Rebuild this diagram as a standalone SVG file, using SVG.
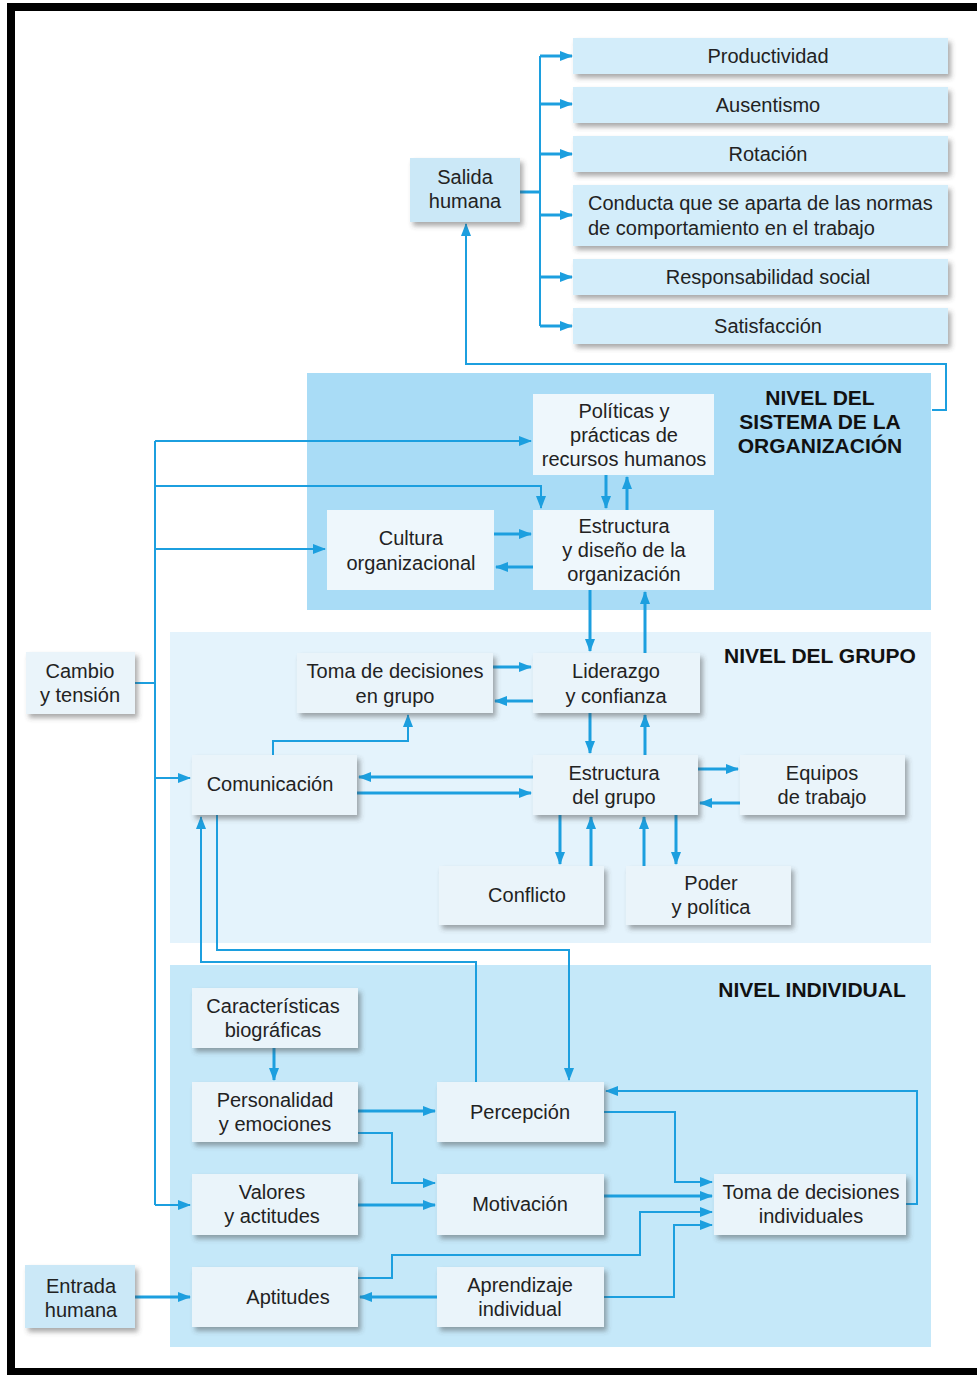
<svg xmlns="http://www.w3.org/2000/svg" width="977" height="1375" viewBox="0 0 977 1375">
<defs>
<style>
text{font-family:"Liberation Sans",Arial,sans-serif;font-size:20px;fill:#222;text-anchor:middle}
.t{font-weight:bold;font-size:21px;fill:#111}
.out{fill:#d3edfa}
.io{fill:#cbe8f7}
.nd{fill:#eef7fc}
.ng{fill:#eaf4fa}
.c{fill:none;stroke:#1c9fdf;stroke-width:3;stroke-linejoin:miter}
.th{stroke-width:2}
</style>
<filter id="sh" x="-10%" y="-10%" width="125%" height="135%">
<feDropShadow dx="3" dy="4" stdDeviation="2.5" flood-color="#444" flood-opacity="0.45"/>
</filter>
<marker id="a" markerWidth="13" markerHeight="10" refX="12" refY="5" orient="auto" markerUnits="userSpaceOnUse">
<path d="M0,0 L13,5 L0,10 z" fill="#1c9fdf"/>
</marker>
</defs>
<rect width="977" height="1375" fill="#fff"/>
<path d="M11,1375 V7 H977 M7,1372 H977" fill="none" stroke="#000" stroke-width="8"/>

<g id="panels">
<rect x="307" y="373" width="624" height="237" fill="#a9dcf6"/>
<rect x="170" y="632" width="761" height="311" fill="#e4f3fc"/>
<rect x="170" y="965" width="761" height="382" fill="#c5e8f9"/>
<text class="t" x="820" y="405">NIVEL DEL</text>
<text class="t" x="820" y="429">SISTEMA DE LA</text>
<text class="t" x="820" y="453">ORGANIZACIÓN</text>
<text class="t" x="820" y="663">NIVEL DEL GRUPO</text>
<text class="t" x="812" y="997">NIVEL INDIVIDUAL</text>
</g>

<g id="connectors">
<path class="c" d="M520,192 H540"/>
<path class="c th" d="M540,56 V326"/>
<path class="c" d="M540,56 H572" marker-end="url(#a)"/>
<path class="c" d="M540,104 H572" marker-end="url(#a)"/>
<path class="c" d="M540,154 H572" marker-end="url(#a)"/>
<path class="c" d="M540,215 H572" marker-end="url(#a)"/>
<path class="c" d="M540,277 H572" marker-end="url(#a)"/>
<path class="c" d="M540,326 H572" marker-end="url(#a)"/>
<path class="c th" d="M932,410 H946 V364 H466 V224" marker-end="url(#a)"/>
<path class="c th" d="M135,683 H155 M155,441 V1205"/>
<path class="c th" d="M155,441 H531" marker-end="url(#a)"/>
<path class="c th" d="M155,486 H541 V508" marker-end="url(#a)"/>
<path class="c th" d="M155,549 H325" marker-end="url(#a)"/>
<path class="c th" d="M155,778 H190" marker-end="url(#a)"/>
<path class="c th" d="M155,1205 H190" marker-end="url(#a)"/>
<path class="c" d="M606,475 V508" marker-end="url(#a)"/>
<path class="c" d="M627,510 V477" marker-end="url(#a)"/>
<path class="c" d="M494,534 H531" marker-end="url(#a)"/>
<path class="c" d="M533,567 H496" marker-end="url(#a)"/>
<path class="c" d="M590,590 V651" marker-end="url(#a)"/>
<path class="c" d="M645,653 V592" marker-end="url(#a)"/>
<path class="c" d="M493,667 H531" marker-end="url(#a)"/>
<path class="c" d="M533,701 H495" marker-end="url(#a)"/>
<path class="c" d="M590,713 V753" marker-end="url(#a)"/>
<path class="c" d="M645,755 V715" marker-end="url(#a)"/>
<path class="c th" d="M273,755 V741 H408 V715" marker-end="url(#a)"/>
<path class="c" d="M533,777 H359" marker-end="url(#a)"/>
<path class="c" d="M357,793 H531" marker-end="url(#a)"/>
<path class="c" d="M698,769 H738" marker-end="url(#a)"/>
<path class="c" d="M740,803 H700" marker-end="url(#a)"/>
<path class="c" d="M560,815 V864" marker-end="url(#a)"/>
<path class="c" d="M591,866 V817" marker-end="url(#a)"/>
<path class="c" d="M644,866 V817" marker-end="url(#a)"/>
<path class="c" d="M676,815 V864" marker-end="url(#a)"/>
<path class="c th" d="M217,815 V950 H569 V1080" marker-end="url(#a)"/>
<path class="c th" d="M476,1082 V962 H201 V817" marker-end="url(#a)"/>
<path class="c" d="M274,1048 V1080" marker-end="url(#a)"/>
<path class="c" d="M358,1111 H435" marker-end="url(#a)"/>
<path class="c th" d="M358,1133 H392 V1183 H435" marker-end="url(#a)"/>
<path class="c" d="M358,1205 H435" marker-end="url(#a)"/>
<path class="c th" d="M604,1112 H675 V1182 H712" marker-end="url(#a)"/>
<path class="c" d="M604,1196 H712" marker-end="url(#a)"/>
<path class="c th" d="M358,1278 H392 V1255 H640 V1212 H712" marker-end="url(#a)"/>
<path class="c th" d="M604,1297 H674 V1225 H712" marker-end="url(#a)"/>
<path class="c" d="M437,1297 H360" marker-end="url(#a)"/>
<path class="c th" d="M906,1204 H917 V1091 H606" marker-end="url(#a)"/>
<path class="c" stroke-width="4" d="M135,1297 H190" marker-end="url(#a)"/>
</g>

<g id="productividad"><rect class="out" filter="url(#sh)" x="573" y="38" width="375" height="36"/><text x="768" y="63">Productividad</text></g>
<g id="ausentismo"><rect class="out" filter="url(#sh)" x="573" y="87" width="375" height="36"/><text x="768" y="112">Ausentismo</text></g>
<g id="rotacion"><rect class="out" filter="url(#sh)" x="573" y="136" width="375" height="36"/><text x="768" y="161">Rotación</text></g>
<g id="conducta"><rect class="out" filter="url(#sh)" x="573" y="185" width="375" height="61"/><text x="588" y="210" style="text-anchor:start">Conducta que se aparta de las normas</text><text x="588" y="235" style="text-anchor:start">de comportamiento en el trabajo</text></g>
<g id="responsabilidad"><rect class="out" filter="url(#sh)" x="573" y="259" width="375" height="36"/><text x="768" y="284">Responsabilidad social</text></g>
<g id="satisfaccion"><rect class="out" filter="url(#sh)" x="573" y="308" width="375" height="36"/><text x="768" y="333">Satisfacción</text></g>
<g id="salida"><rect class="io" filter="url(#sh)" x="410" y="158" width="110" height="64"/><text x="465" y="184">Salida</text><text x="465" y="208">humana</text></g>

<g id="politicas"><rect class="nd" x="533" y="394" width="181" height="81"/><text x="624" y="418">Políticas y</text><text x="624" y="442">prácticas de</text><text x="624" y="466">recursos humanos</text></g>
<g id="cultura"><rect class="nd" x="327" y="510" width="167" height="80"/><text x="411" y="545">Cultura</text><text x="411" y="570">organizacional</text></g>
<g id="estructura-org"><rect class="nd" x="533" y="510" width="181" height="80"/><text x="624" y="533">Estructura</text><text x="624" y="557">y diseño de la</text><text x="624" y="581">organización</text></g>

<g id="cambio"><rect class="ng" filter="url(#sh)" x="26" y="652" width="109" height="62"/><text x="80" y="678">Cambio</text><text x="80" y="702">y tensión</text></g>

<g id="toma-grupo"><rect class="ng" filter="url(#sh)" x="297" y="653" width="196" height="60"/><text x="395" y="678">Toma de decisiones</text><text x="395" y="703">en grupo</text></g>
<g id="liderazgo"><rect class="ng" filter="url(#sh)" x="533" y="653" width="167" height="60"/><text x="616" y="678">Liderazgo</text><text x="616" y="703">y confianza</text></g>
<g id="comunicacion"><rect class="ng" filter="url(#sh)" x="192" y="755" width="165" height="60"/><text x="270" y="791">Comunicación</text></g>
<g id="estructura-grupo"><rect class="ng" filter="url(#sh)" x="533" y="755" width="165" height="60"/><text x="614" y="780">Estructura</text><text x="614" y="804">del grupo</text></g>
<g id="equipos"><rect class="ng" filter="url(#sh)" x="740" y="755" width="165" height="60"/><text x="822" y="780">Equipos</text><text x="822" y="804">de trabajo</text></g>
<g id="conflicto"><rect class="ng" filter="url(#sh)" x="439" y="866" width="165" height="59"/><text x="527" y="902">Conflicto</text></g>
<g id="poder"><rect class="ng" filter="url(#sh)" x="626" y="866" width="165" height="59"/><text x="711" y="890">Poder</text><text x="711" y="914">y política</text></g>

<g id="caracteristicas"><rect class="ng" filter="url(#sh)" x="192" y="988" width="166" height="60"/><text x="273" y="1013">Características</text><text x="273" y="1037">biográficas</text></g>
<g id="personalidad"><rect class="ng" filter="url(#sh)" x="192" y="1082" width="166" height="60"/><text x="275" y="1107">Personalidad</text><text x="275" y="1131">y emociones</text></g>
<g id="percepcion"><rect class="ng" filter="url(#sh)" x="437" y="1082" width="167" height="60"/><text x="520" y="1119">Percepción</text></g>
<g id="valores"><rect class="ng" filter="url(#sh)" x="192" y="1174" width="166" height="61"/><text x="272" y="1199">Valores</text><text x="272" y="1223">y actitudes</text></g>
<g id="motivacion"><rect class="ng" filter="url(#sh)" x="437" y="1174" width="167" height="61"/><text x="520" y="1211">Motivación</text></g>
<g id="toma-individual"><rect class="ng" filter="url(#sh)" x="714" y="1174" width="192" height="61"/><text x="811" y="1199">Toma de decisiones</text><text x="811" y="1223">individuales</text></g>
<g id="aptitudes"><rect class="ng" filter="url(#sh)" x="192" y="1267" width="166" height="60"/><text x="288" y="1304">Aptitudes</text></g>
<g id="aprendizaje"><rect class="ng" filter="url(#sh)" x="437" y="1267" width="167" height="60"/><text x="520" y="1292">Aprendizaje</text><text x="520" y="1316">individual</text></g>
<g id="entrada"><rect class="io" filter="url(#sh)" x="25" y="1265" width="110" height="63"/><text x="81" y="1293">Entrada</text><text x="81" y="1317">humana</text></g>
</svg>
